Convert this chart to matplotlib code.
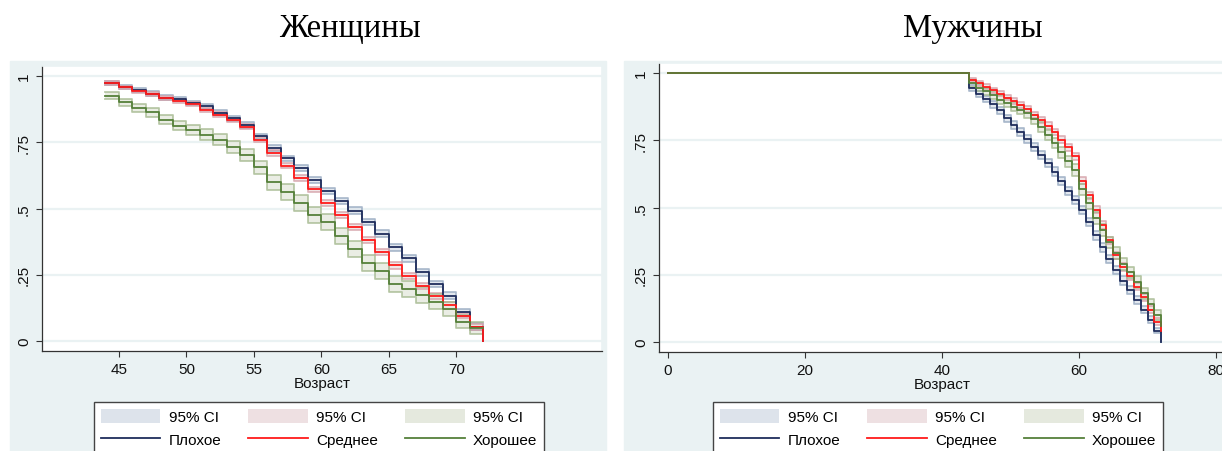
import matplotlib
matplotlib.use("Agg")
import matplotlib.pyplot as plt
from matplotlib.patches import Rectangle, Patch
from matplotlib.lines import Line2D

plt.rcParams['font.family'] = ['Liberation Sans', 'DejaVu Sans']

# Ages at which the survival curves step (last one = end of follow-up)
ages = [44, 45, 46, 47, 48, 49, 50, 51, 52, 53, 54, 55, 56, 57, 58, 59,
        60, 61, 62, 63, 64, 65, 66, 67, 68, 69, 70, 71, 72]

# Women (Женщины): survival for each health group, last value = after 72
women_bad = [0.974, 0.960, 0.948, 0.934, 0.919, 0.913, 0.898, 0.886, 0.862, 0.840,
             0.815, 0.772, 0.728, 0.689, 0.652, 0.608, 0.567, 0.529, 0.492, 0.450,
             0.404, 0.354, 0.312, 0.259, 0.215, 0.171, 0.108, 0.054, 0.0]
women_mid = [0.974, 0.957, 0.942, 0.932, 0.917, 0.907, 0.894, 0.873, 0.854, 0.834,
             0.809, 0.760, 0.709, 0.662, 0.614, 0.572, 0.522, 0.477, 0.430, 0.382,
             0.335, 0.285, 0.245, 0.207, 0.170, 0.134, 0.096, 0.053, 0.0]
women_good = [0.926, 0.901, 0.879, 0.863, 0.835, 0.813, 0.796, 0.779, 0.760, 0.731,
              0.702, 0.655, 0.599, 0.563, 0.520, 0.476, 0.448, 0.397, 0.347, 0.293,
              0.265, 0.215, 0.196, 0.174, 0.148, 0.121, 0.073, 0.048, 0.048]
# half-widths of the 95% CI bands
women_bad_ci = [0.008, 0.008, 0.008, 0.008, 0.008, 0.008, 0.009, 0.009, 0.009, 0.009,
                0.010, 0.010, 0.010, 0.011, 0.011, 0.011, 0.012, 0.012, 0.012, 0.012,
                0.013, 0.013, 0.013, 0.013, 0.013, 0.013, 0.013, 0.012, 0.0]
women_mid_ci = [0.007, 0.007, 0.007, 0.007, 0.008, 0.008, 0.008, 0.008, 0.009, 0.009,
                0.009, 0.010, 0.010, 0.010, 0.011, 0.011, 0.011, 0.011, 0.012, 0.012,
                0.012, 0.012, 0.012, 0.012, 0.012, 0.012, 0.011, 0.010, 0.0]
women_good_ci = [0.013, 0.014, 0.015, 0.016, 0.017, 0.018, 0.019, 0.020, 0.021, 0.022,
                 0.024, 0.026, 0.029, 0.030, 0.031, 0.031, 0.031, 0.031, 0.031, 0.030,
                 0.030, 0.030, 0.029, 0.029, 0.028, 0.027, 0.025, 0.023, 0.023]

# Men (Мужчины): curve is flat at 1 from age 0 to 44
men_ages = [0] + ages
men_bad = [1.0, 0.945, 0.922, 0.903, 0.884, 0.862, 0.832, 0.808, 0.782, 0.756, 0.726,
           0.696, 0.666, 0.634, 0.598, 0.562, 0.528, 0.490, 0.446, 0.396, 0.352,
           0.308, 0.268, 0.228, 0.192, 0.157, 0.120, 0.082, 0.042, 0.0]
men_mid = [1.0, 0.974, 0.962, 0.950, 0.937, 0.924, 0.909, 0.897, 0.882, 0.866, 0.845,
           0.826, 0.805, 0.782, 0.752, 0.724, 0.690, 0.600, 0.545, 0.492, 0.435,
           0.378, 0.322, 0.279, 0.245, 0.205, 0.165, 0.120, 0.075, 0.04]
men_good = [1.0, 0.962, 0.945, 0.932, 0.918, 0.902, 0.890, 0.876, 0.864, 0.850, 0.828,
            0.800, 0.770, 0.740, 0.706, 0.672, 0.640, 0.568, 0.515, 0.462, 0.415,
            0.370, 0.330, 0.290, 0.258, 0.222, 0.180, 0.140, 0.100, 0.06]
men_bad_ci = [0.0, 0.011, 0.012, 0.012, 0.013, 0.013, 0.013, 0.014, 0.014, 0.014, 0.014,
              0.015, 0.015, 0.015, 0.015, 0.015, 0.016, 0.016, 0.016, 0.016, 0.016,
              0.016, 0.016, 0.016, 0.015, 0.015, 0.014, 0.013, 0.011, 0.0]
men_mid_ci = [0.0, 0.008, 0.009, 0.009, 0.009, 0.010, 0.010, 0.010, 0.011, 0.011, 0.011,
              0.012, 0.012, 0.012, 0.013, 0.013, 0.013, 0.014, 0.014, 0.014, 0.014,
              0.014, 0.014, 0.014, 0.014, 0.013, 0.013, 0.013, 0.012, 0.0]
men_good_ci = [0.0, 0.012, 0.013, 0.014, 0.015, 0.015, 0.016, 0.016, 0.017, 0.017, 0.018,
               0.018, 0.019, 0.019, 0.020, 0.020, 0.021, 0.021, 0.021, 0.022, 0.022,
               0.022, 0.022, 0.022, 0.022, 0.022, 0.022, 0.021, 0.020, 0.020]

groups = ['Плохое', 'Среднее', 'Хорошее']
line_colors = ['#1f2d5c', '#ff1a1a', '#55803a']
ci_fill = ['#dde3eb', '#eee0e2', '#e5e9de']
ci_edge = ['#94a7bf', '#d49ea6', '#a2b78c']

bg = '#eaf2f3'
W, H = 1222, 452
fig = plt.figure(figsize=(W / 100, H / 100), dpi=100)
fig.patch.set_facecolor('white')

# Stata-like graph region backgrounds
fig.patches.append(Rectangle((10 / W, 0), (606 - 10) / W, 1 - 62 / H,
                             transform=fig.transFigure, color=bg, zorder=-5))
fig.patches.append(Rectangle((624 / W, 0), (W - 624) / W, 1 - 62 / H,
                             transform=fig.transFigure, color=bg, zorder=-5))

ax1 = fig.add_axes([42 / W, 1 - 352 / H, (602 - 42) / W, (352 - 67) / H])
ax2 = fig.add_axes([659 / W, 1 - 353 / H, (1225 - 659) / W, (353 - 64) / H])


def draw(ax, x, series, cis):
    for s, c, fc, ec in zip(series, cis, ci_fill, ci_edge):
        lo = [v - w for v, w in zip(s, c)]
        hi = [v + w for v, w in zip(s, c)]
        ax.fill_between(x, lo, hi, step='post', color=fc, alpha=0.8, lw=0, zorder=2)
        ax.step(x, lo, where='post', color=ec, lw=1.3, alpha=0.75, zorder=3)
        ax.step(x, hi, where='post', color=ec, lw=1.3, alpha=0.75, zorder=3)
    for s, col in zip(series, line_colors):
        ax.step(x, s, where='post', color=col, lw=1.3, zorder=4)


draw(ax1, ages, [women_bad, women_mid, women_good],
     [women_bad_ci, women_mid_ci, women_good_ci])
draw(ax2, men_ages, [men_bad, men_mid, men_good],
     [men_bad_ci, men_mid_ci, men_good_ci])

ax1.set_xlim(39.3, 80.78)
ax1.set_xticks([45, 50, 55, 60, 65, 70])
ax2.set_xlim(-1.31, 81.31)
ax2.set_xticks([0, 20, 40, 60, 80])

for ax in (ax1, ax2):
    ax.set_facecolor('white')
    ax.set_ylim(-0.038, 1.038)
    ax.set_yticks([0, 0.25, 0.5, 0.75, 1])
    ax.set_yticklabels(['0', '.25', '.5', '.75', '1'], rotation=90, va='center')
    ax.grid(axis='y', color=bg, lw=1.6, zorder=1)
    ax.set_axisbelow(True)
    for sp in ('top', 'right'):
        ax.spines[sp].set_color(bg)
        ax.spines[sp].set_linewidth(1.2)
    for sp in ('left', 'bottom'):
        ax.spines[sp].set_color('#333333')
        ax.spines[sp].set_linewidth(0.9)
    ax.tick_params(axis='both', length=4.5, width=0.8, color='#333333',
                   labelsize=11, labelcolor='#111111', pad=3.5)
    ax.set_xlabel('Возраст', fontsize=11, labelpad=0, color='#111111')

fig.text(350 / W, 1 - 37 / H, 'Женщины', family='Liberation Serif',
         fontsize=23.5, ha='center', va='baseline')
fig.text(973 / W, 1 - 37 / H, 'Мужчины', family='Liberation Serif',
         fontsize=23.5, ha='center', va='baseline')

labels = []
handles = []
for g, lc, fc in zip(groups, line_colors, ci_fill):
    handles += [Patch(facecolor=fc, edgecolor='none'), Line2D([], [], color=lc, lw=1.3)]
    labels += ['95% CI', g]

for x0 in (94, 713):
    leg = fig.legend(handles, labels, ncol=3, loc='upper left',
                     bbox_to_anchor=(x0 / W, 1 - 403 / H),
                     bbox_transform=fig.transFigure, frameon=True, fancybox=False,
                     edgecolor='#444444', facecolor='white', framealpha=1,
                     fontsize=11, handlelength=3.9, handleheight=1.05,
                     handletextpad=0.55, columnspacing=1.75, labelspacing=0.5,
                     borderpad=0.45, borderaxespad=0)
    leg.get_frame().set_linewidth(1.0)

fig.savefig('out.png', dpi=100)
